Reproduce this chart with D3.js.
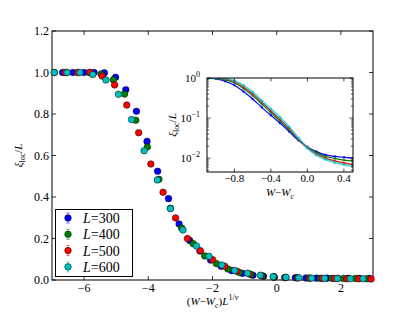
<!DOCTYPE html>
<html>
<head>
<meta charset="utf-8">
<script src="https://cdn.jsdelivr.net/npm/d3@7"></script>
<style>
  body { margin: 0; background: #fff; }
  svg { display: block; font-family: "Liberation Serif", "DejaVu Serif", serif; }
</style>
</head>
<body>
<div id="chart"></div>
<script>
// system sizes and their colours
const sizes = [300, 400, 500, 600];
const colors = ["#0000ff", "#008000", "#ff0000", "#00bfbf"];

// main panel: scaled x = (W-Wc) L^(1/nu), y = xi_loc / L
const x300 = [-6.67, -6.35, -6.0, -5.69, -5.37, -5.02, -4.7, -4.37, -4.04, -3.71, -3.37, -3.04, -2.71, -2.39, -2.06, -1.73, -1.40, -1.07, -0.74, -0.41, -0.08, 0.25, 0.58, 0.91, 1.24, 1.57, 1.9, 2.23, 2.56, 2.89];
const y300 = [1.0, 1.0, 1.0, 1.0, 0.998, 0.977, 0.917, 0.813, 0.668, 0.524, 0.392, 0.27, 0.19, 0.14, 0.096, 0.066, 0.045, 0.032, 0.023, 0.018, 0.014, 0.012, 0.011, 0.010, 0.009, 0.009, 0.008, 0.008, 0.008, 0.007];

const x400 = [-6.93, -6.55, -6.19, -5.83, -5.47, -5.09, -4.74, -4.39, -4.03, -3.67, -3.31, -2.96, -2.6, -2.24, -1.88, -1.52, -1.16, -0.8, -0.44, -0.08, 0.28, 0.64, 1.0, 1.36, 1.72, 2.08, 2.44, 2.8];
const y400 = [1.0, 1.0, 1.0, 1.0, 0.993, 0.965, 0.896, 0.77, 0.641, 0.485, 0.346, 0.25, 0.175, 0.116, 0.079, 0.053, 0.036, 0.026, 0.019, 0.015, 0.012, 0.011, 0.009, 0.008, 0.008, 0.007, 0.007, 0.006];

const x500 = [-6.59, -6.2, -5.82, -5.44, -5.05, -4.67, -4.3, -3.92, -3.54, -3.15, -2.78, -2.38, -2.0, -1.62, -1.24, -0.86, -0.48, -0.1, 0.28, 0.66, 1.04, 1.42, 1.8, 2.18, 2.56, 2.94];
const y500 = [1.0, 1.0, 1.0, 0.983, 0.94, 0.843, 0.71, 0.559, 0.423, 0.299, 0.2, 0.141, 0.098, 0.066, 0.042, 0.03, 0.021, 0.015, 0.012, 0.010, 0.009, 0.008, 0.007, 0.006, 0.006, 0.005];

const x600 = [-6.93, -6.53, -6.13, -5.73, -5.32, -4.93, -4.52, -4.13, -3.72, -3.31, -2.92, -2.5, -2.11, -1.71, -1.31, -0.91, -0.51, -0.11, 0.29, 0.69, 1.09, 1.49, 1.89, 2.29, 2.69];
const y600 = [1.0, 1.0, 1.0, 0.99, 0.964, 0.895, 0.773, 0.623, 0.482, 0.344, 0.241, 0.164, 0.114, 0.072, 0.046, 0.032, 0.023, 0.016, 0.013, 0.011, 0.009, 0.008, 0.007, 0.006, 0.006];

// inset: unscaled W-Wc against xi_loc / L (log)
const wInset = [-1.1, -1.0, -0.9, -0.8, -0.7, -0.6, -0.5, -0.4, -0.3, -0.2, -0.1, 0.0, 0.1, 0.2, 0.3, 0.4, 0.5];
const inset300 = [1.0, 0.95, 0.83, 0.66, 0.46, 0.30, 0.185, 0.117, 0.075, 0.046, 0.028, 0.019, 0.0145, 0.012, 0.011, 0.0105, 0.010];
const inset400 = [1.0, 0.977, 0.90, 0.76, 0.55, 0.363, 0.224, 0.138, 0.085, 0.051, 0.0295, 0.0186, 0.0135, 0.011, 0.0098, 0.0089, 0.0085];
const inset500 = [1.0, 0.99, 0.944, 0.80, 0.60, 0.40, 0.25, 0.151, 0.093, 0.055, 0.030, 0.018, 0.0126, 0.010, 0.0085, 0.0076, 0.0069];
const inset600 = [1.0, 1.0, 0.977, 0.85, 0.65, 0.44, 0.27, 0.167, 0.103, 0.060, 0.0316, 0.0178, 0.012, 0.0093, 0.0078, 0.0069, 0.0063];

const mainX = [x300, x400, x500, x600];
const mainY = [y300, y400, y500, y600];
const insetY = [inset300, inset400, inset500, inset600];

const xTicks = [-6, -4, -2, 0, 2];
const yTicks = [0, 0.2, 0.4, 0.6, 0.8, 1.0, 1.2];
const insetXTicks = [-0.8, -0.4, 0.0, 0.4];
const insetYTicks = [1, 0.1, 0.01];

const minus = s => s.replace("-", "\u2212");

function chart({width, height}) {
  const svg = d3.create("svg")
    .attr("width", width)
    .attr("height", height)
    .attr("viewBox", [0, 0, width, height]);

  const m = {left: 52, right: 373, top: 31, bottom: 280};
  const x = d3.scaleLinear().domain([-7, 3]).range([m.left, m.right]);
  const y = d3.scaleLinear().domain([0, 1.2]).range([m.bottom, m.top]);

  // frame
  svg.append("rect")
    .attr("x", m.left).attr("y", m.top)
    .attr("width", m.right - m.left).attr("height", m.bottom - m.top)
    .attr("fill", "none").attr("stroke", "#000").attr("stroke-width", 1);

  // inward ticks on every side
  const ticks = svg.append("g").attr("stroke", "#000").attr("stroke-width", 0.8);
  xTicks.forEach(t => {
    ticks.append("line").attr("x1", x(t)).attr("x2", x(t)).attr("y1", m.bottom).attr("y2", m.bottom - 4);
    ticks.append("line").attr("x1", x(t)).attr("x2", x(t)).attr("y1", m.top).attr("y2", m.top + 4);
  });
  yTicks.forEach(t => {
    ticks.append("line").attr("x1", m.left).attr("x2", m.left + 4).attr("y1", y(t)).attr("y2", y(t));
    ticks.append("line").attr("x1", m.right).attr("x2", m.right - 4).attr("y1", y(t)).attr("y2", y(t));
  });

  svg.append("g")
    .selectAll("text")
    .data(xTicks)
    .join("text")
      .attr("x", d => x(d))
      .attr("y", 292)
      .attr("text-anchor", "middle")
      .attr("font-size", 12)
      .text(d => minus(d3.format("d")(d)));

  svg.append("g")
    .selectAll("text")
    .data(yTicks)
    .join("text")
      .attr("x", 49)
      .attr("y", d => y(d) + 4)
      .attr("text-anchor", "end")
      .attr("font-size", 12)
      .text(d => d3.format(".1f")(d));

  // axis labels
  const xl = svg.append("text")
    .attr("x", (m.left + m.right) / 2)
    .attr("y", 305)
    .attr("text-anchor", "middle")
    .attr("font-size", 11);
  xl.append("tspan").text("(");
  xl.append("tspan").attr("font-style", "italic").text("W");
  xl.append("tspan").text("\u2212");
  xl.append("tspan").attr("font-style", "italic").text("W");
  xl.append("tspan").attr("font-style", "italic").attr("font-size", 8).attr("dy", 3).text("c");
  xl.append("tspan").attr("dy", -3).text(")");
  xl.append("tspan").attr("font-style", "italic").text("L");
  xl.append("tspan").attr("font-size", 8).attr("dy", -5).text("1/");
  xl.append("tspan").attr("font-size", 8).attr("font-style", "italic").text("\u03bd");

  yLabel(svg, 22, (m.top + m.bottom) / 2, 11);

  // scatter
  const pts = svg.append("g");
  sizes.forEach((L, i) => {
    pts.append("g")
      .selectAll("circle")
      .data(mainX[i].map((v, j) => [v, mainY[i][j]]))
      .join("circle")
        .attr("cx", d => x(d[0]))
        .attr("cy", d => y(d[1]))
        .attr("r", 3.3)
        .attr("fill", colors[i])
        .attr("stroke", "#000")
        .attr("stroke-width", 0.5);
  });

  legend(svg);
  inset(svg);

  return svg.node();
}

function yLabel(g, cx, cy, fs) {
  const t = g.append("text")
    .attr("transform", `translate(${cx},${cy}) rotate(-90)`)
    .attr("text-anchor", "middle")
    .attr("font-size", fs);
  t.append("tspan").attr("font-style", "italic").text("\u03be");
  t.append("tspan").attr("font-size", fs * 0.72).attr("dy", 3).text("loc");
  t.append("tspan").attr("dy", -3).text("/");
  t.append("tspan").attr("font-style", "italic").text("L");
}

function legend(svg) {
  const g = svg.append("g");
  g.append("rect")
    .attr("x", 55.5).attr("y", 209.5)
    .attr("width", 77).attr("height", 67)
    .attr("fill", "#fff").attr("stroke", "#000").attr("stroke-width", 1);

  const item = g.selectAll("g")
    .data(sizes)
    .join("g")
      .attr("transform", (d, i) => `translate(68,${218 + i * 16.3})`);

  item.append("line")
    .attr("y1", -5).attr("y2", 5)
    .attr("stroke", (d, i) => colors[i]).attr("stroke-width", 0.8).attr("opacity", 0.6);
  item.append("line")
    .attr("x1", -2).attr("x2", 2).attr("y1", -5).attr("y2", -5)
    .attr("stroke", (d, i) => colors[i]).attr("stroke-width", 0.8).attr("opacity", 0.6);
  item.append("line")
    .attr("x1", -2).attr("x2", 2).attr("y1", 5).attr("y2", 5)
    .attr("stroke", (d, i) => colors[i]).attr("stroke-width", 0.8).attr("opacity", 0.6);
  item.append("circle")
    .attr("r", 3.3)
    .attr("fill", (d, i) => colors[i])
    .attr("stroke", "#000").attr("stroke-width", 0.5);

  const t = item.append("text")
    .attr("x", 15)
    .attr("y", 5)
    .attr("font-size", 14);
  t.append("tspan").attr("font-style", "italic").text("L");
  t.append("tspan").text("=");
  t.append("tspan").text(d => d);
}

function inset(svg) {
  const b = {left: 207, right: 353, top: 78, bottom: 172};
  const x = d3.scaleLinear().domain([-1.1, 0.5]).range([b.left, b.right]);
  const y = d3.scaleLog().domain([0.0045, 1]).range([b.bottom, b.top]);

  const g = svg.append("g");
  g.append("rect")
    .attr("x", b.left).attr("y", b.top)
    .attr("width", b.right - b.left).attr("height", b.bottom - b.top)
    .attr("fill", "#fff");

  g.append("clipPath").attr("id", "insetClip")
    .append("rect")
    .attr("x", b.left).attr("y", b.top)
    .attr("width", b.right - b.left).attr("height", b.bottom - b.top);

  const line = d3.line()
    .x(d => x(d[0]))
    .y(d => y(d[1]))
    .curve(d3.curveMonotoneX);

  const curves = g.append("g").attr("clip-path", "url(#insetClip)");
  sizes.forEach((L, i) => {
    const data = wInset.map((w, j) => [w, insetY[i][j]]);
    curves.append("path")
      .datum(data)
      .attr("fill", "none")
      .attr("stroke", colors[i])
      .attr("stroke-width", i === 3 ? 2.4 : 1.2)
      .attr("stroke-opacity", i === 3 ? 0.6 : 1)
      .attr("d", line);
    curves.append("g")
      .selectAll("rect")
      .data(data)
      .join("rect")
        .attr("x", d => x(d[0]) - 1.2)
        .attr("y", d => y(d[1]) - 1.2)
        .attr("width", 2.4).attr("height", 2.4)
        .attr("fill", colors[i])
        .attr("opacity", 0.7);
  });

  g.append("rect")
    .attr("x", b.left).attr("y", b.top)
    .attr("width", b.right - b.left).attr("height", b.bottom - b.top)
    .attr("fill", "none").attr("stroke", "#000").attr("stroke-width", 1);

  const tk = g.append("g").attr("stroke", "#000").attr("stroke-width", 0.7);
  insetXTicks.forEach(t => {
    tk.append("line").attr("x1", x(t)).attr("x2", x(t)).attr("y1", b.bottom).attr("y2", b.bottom - 3.5);
    tk.append("line").attr("x1", x(t)).attr("x2", x(t)).attr("y1", b.top).attr("y2", b.top + 3.5);
  });
  const minor = [];
  [0.001, 0.01, 0.1].forEach(dec => {
    for (let k = 2; k <= 9; k++) if (dec * k >= 0.0045) minor.push(dec * k);
  });
  insetYTicks.forEach(t => {
    tk.append("line").attr("x1", b.left).attr("x2", b.left + 3.5).attr("y1", y(t)).attr("y2", y(t));
    tk.append("line").attr("x1", b.right).attr("x2", b.right - 3.5).attr("y1", y(t)).attr("y2", y(t));
  });
  minor.forEach(t => {
    tk.append("line").attr("x1", b.left).attr("x2", b.left + 2).attr("y1", y(t)).attr("y2", y(t));
    tk.append("line").attr("x1", b.right).attr("x2", b.right - 2).attr("y1", y(t)).attr("y2", y(t));
  });

  g.append("g")
    .selectAll("text")
    .data(insetXTicks)
    .join("text")
      .attr("x", d => x(d))
      .attr("y", 182)
      .attr("text-anchor", "middle")
      .attr("font-size", 11)
      .text(d => minus(d3.format(".1f")(d)));

  const yt = g.append("g")
    .selectAll("text")
    .data(insetYTicks)
    .join("text")
      .attr("x", 200)
      .attr("y", d => y(d) + 4)
      .attr("text-anchor", "end")
      .attr("font-size", 11);
  yt.append("tspan").text("10");
  yt.append("tspan")
    .attr("font-size", 8)
    .attr("dy", -5)
    .text(d => minus(String(Math.round(Math.log10(d)))));

  const xl = g.append("text")
    .attr("x", (b.left + b.right) / 2)
    .attr("y", 196)
    .attr("text-anchor", "middle")
    .attr("font-size", 11);
  xl.append("tspan").attr("font-style", "italic").text("W");
  xl.append("tspan").text("\u2212");
  xl.append("tspan").attr("font-style", "italic").text("W");
  xl.append("tspan").attr("font-style", "italic").attr("font-size", 8).attr("dy", 3).text("c");

  yLabel(g, 176, (b.top + b.bottom) / 2, 11);
}

const mysvg = chart({width: 415, height: 312});
document.querySelector("#chart").appendChild(mysvg);
</script>
</body>
</html>
